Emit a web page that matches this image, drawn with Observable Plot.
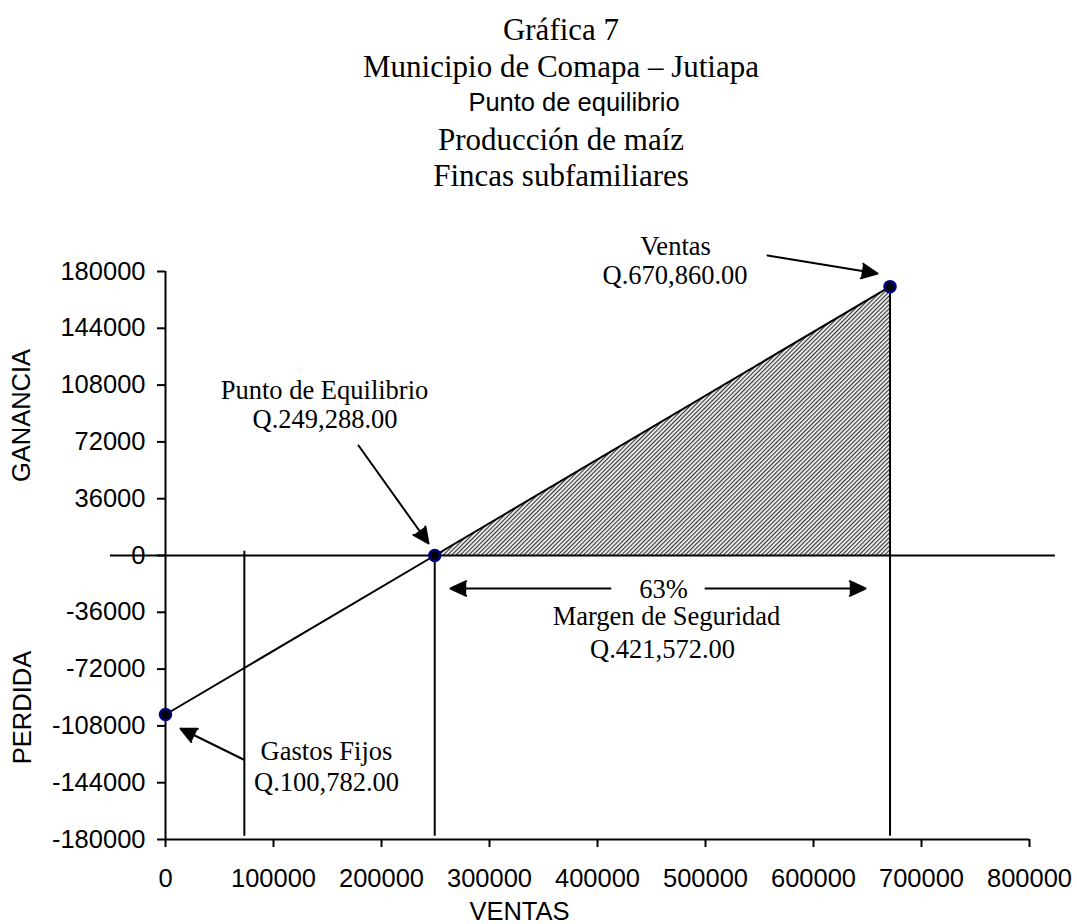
<!DOCTYPE html>
<html><head><meta charset="utf-8">
<script src="https://cdn.jsdelivr.net/npm/d3@7"></script>
<script src="https://cdn.jsdelivr.net/npm/@observablehq/plot@0.6"></script>
<style>
body{margin:0;background:#fff;width:1077px;height:924px;overflow:hidden;position:relative}
.t{position:absolute;left:45px;width:1032px;text-align:center;line-height:1;color:#000;white-space:nowrap}
.s{font-family:"Liberation Serif","Times New Roman",serif;font-size:31px}
.a{font-family:"Liberation Sans",Arial,sans-serif;font-size:25.5px;left:70px;width:1008px}
#chart{position:absolute;left:0;top:200px}
</style></head><body>
<div id="header"></div>
<div id="chart"></div>
<script>
// ---- data ----
const titleLines = ["Gráfica 7", "Municipio de Comapa – Jutiapa", "Punto de equilibrio", "Producción de maíz", "Fincas subfamiliares"];
const ventas = [0, 249288, 670860];           // VENTAS (Q.)
const resultado = [-100782, 0, 170400];       // GANANCIA / PERDIDA (Q.)
const xTicks = [0, 100000, 200000, 300000, 400000, 500000, 600000, 700000, 800000];
const yTicks = [-180000, -144000, -108000, -72000, -36000, 0, 36000, 72000, 108000, 144000, 180000];
const dropX = [73000, 249288, 670860];
const dropTop = [2700, 0, 170400];
const dropBottom = -178000;

// ---- header ----
const header = document.getElementById("header");
const headerTops = [14, 51, 90, 124, 160];
titleLines.forEach((t, i) => {
  const d = document.createElement("div");
  d.className = "t " + (i === 2 ? "a" : "s");
  d.style.top = headerTops[i] + "px";
  d.textContent = t;
  header.appendChild(d);
});

const points = ventas.map((v, i) => ({x: v, y: resultado[i]}));
const margen = [points[1], points[2]];
const drops = dropX.map((x, i) => ({x, top: dropTop[i]}));

const hatchDefs = () => {
  const defs = d3.create("svg:defs");
  const p = defs.append("pattern").attr("id", "hatch").attr("patternUnits", "userSpaceOnUse")
    .attr("width", 3).attr("height", 3).attr("patternTransform", "rotate(45)");
  p.append("rect").attr("width", 3).attr("height", 3).attr("fill", "#f0f0f0");
  p.append("rect").attr("width", 1.1).attr("height", 3).attr("fill", "#333");
  return defs.node();
};

const serif = {fontFamily: "Liberation Serif, Times New Roman, serif", fontSize: 26.5, fill: "black", textAnchor: "middle", lineAnchor: "bottom"};
const sans = {fontFamily: "Liberation Sans, Arial, sans-serif", fontSize: 25.5, fill: "black", textAnchor: "middle"};
const arrowStyle = {stroke: "black", fill: "black", strokeWidth: 2, headAngle: 50, headLength: 13};

const label = (t, x, y, extra = {}) => Plot.text([t], {x: () => x, y: () => y, text: d => d, ...serif, ...extra});

const chart = Plot.plot({
  width: 1077,
  height: 724,
  marginLeft: 165,
  marginRight: 48,
  marginTop: 71,
  marginBottom: 85,
  style: {fontFamily: "Liberation Sans, Arial, sans-serif", fontSize: "25.5px", color: "black", background: "white", overflow: "visible"},
  x: {domain: [0, 800000]},
  y: {domain: [-180000, 180000]},
  marks: [
    hatchDefs,
    Plot.areaY(margen, {x: "x", y1: 0, y2: "y", fill: "url(#hatch)"}),
    Plot.axisX(xTicks, {tickSize: 8, tickPadding: 21, tickFormat: d => String(d), strokeWidth: 2, fontSize: 25.5, label: null}),
    Plot.axisY(yTicks, {tickSize: 8, tickPadding: 12, tickFormat: d => String(d), strokeWidth: 2, fontSize: 25.5, label: null}),
    Plot.ruleX([0], {y1: -180000, y2: 180000, stroke: "black", strokeWidth: 2}),
    Plot.ruleY([-180000], {x1: 0, x2: 800000, stroke: "black", strokeWidth: 2}),
    Plot.ruleY([0], {x1: -51000, x2: 824000, stroke: "black", strokeWidth: 2}),
    Plot.ruleX(drops, {x: "x", y1: dropBottom, y2: "top", stroke: "black", strokeWidth: 2}),
    Plot.line(points, {x: "x", y: "y", stroke: "black", strokeWidth: 2}),
    // arrows
    Plot.arrow([0], {x1: 557407, y1: 190141, x2: 659259, y2: 178732, ...arrowStyle}),
    Plot.arrow([0], {x1: 178704, y1: 69718, x2: 243519, y2: 7606, ...arrowStyle}),
    Plot.arrow([0], {x1: 72222, y1: -129296, x2: 13889, y2: -109648, ...arrowStyle}),
    Plot.arrow([0], {x1: 412037, y1: -20915, x2: 263889, y2: -20915, ...arrowStyle}),
    Plot.arrow([0], {x1: 500000, y1: -20915, x2: 648148, y2: -20915, ...arrowStyle}),
    // annotations
    label("Ventas", 472222, 190141),
    label("Q.670,860.00", 471759, 171761),
    label("Punto de Equilibrio", 147222, 99507),
    label("Q.249,288.00", 147685, 80493),
    label("Gastos Fijos", 149074, -129296),
    label("Q.100,782.00", 149074, -148944),
    label("63%", 461111, -26620),
    label("Margen de Seguridad", 463889, -44366),
    label("Q.421,572.00", 460185, -64648),
    // axis titles
    Plot.text(["GANANCIA"], {x: () => -133333, y: () => 88732, text: d => d, rotate: -90, lineAnchor: "middle", ...sans}),
    Plot.text(["PERDIDA"], {x: () => -132407, y: () => -96338, text: d => d, rotate: -90, lineAnchor: "middle", ...sans}),
    Plot.text(["VENTAS"], {x: () => 327778, y: () => -231338, text: d => d, lineAnchor: "bottom", ...sans}),
    Plot.dot(points, {x: "x", y: "y", r: 5.5, fill: "black", stroke: "#000080", strokeWidth: 2.5})
  ]
});
document.getElementById("chart").appendChild(chart);
</script>
</body></html>
